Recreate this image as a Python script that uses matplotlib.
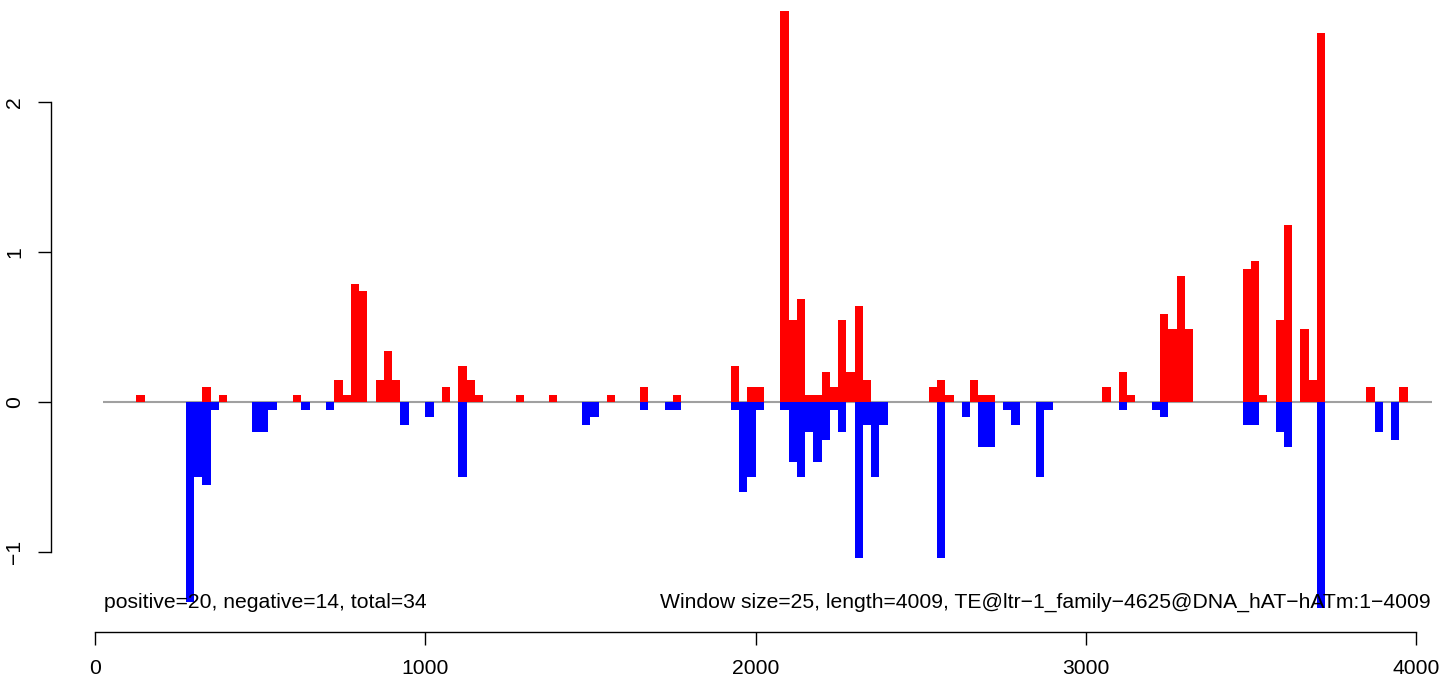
import matplotlib
matplotlib.use("Agg")
import matplotlib.pyplot as plt

plt.rcParams['font.family'] = ['Liberation Sans', 'DejaVu Sans']

# window start positions (bin width 25) and scores
pos_start = [125, 325, 375, 600, 725, 750, 775, 800, 850, 875, 900, 1050, 1100,
             1125, 1150, 1275, 1375, 1550, 1650, 1750, 1925, 1975, 2000, 2075,
             2100, 2125, 2150, 2175, 2200, 2225, 2250, 2275, 2300, 2325, 2525,
             2550, 2575, 2650, 2675, 2700, 3050, 3100, 3125, 3225, 3250, 3275,
             3300, 3475, 3500, 3525, 3575, 3600, 3650, 3675, 3700, 3850, 3950]
pos_val = [0.05, 0.10, 0.05, 0.05, 0.15, 0.05, 0.79, 0.74, 0.15, 0.34, 0.15, 0.10, 0.24,
           0.15, 0.05, 0.05, 0.05, 0.05, 0.10, 0.05, 0.24, 0.10, 0.10, 2.61,
           0.55, 0.69, 0.05, 0.05, 0.20, 0.10, 0.55, 0.20, 0.64, 0.15, 0.10,
           0.15, 0.05, 0.15, 0.05, 0.05, 0.10, 0.20, 0.05, 0.59, 0.49, 0.84,
           0.49, 0.89, 0.94, 0.05, 0.55, 1.18, 0.49, 0.15, 2.46, 0.10, 0.10]

neg_start = [275, 300, 325, 350, 475, 500, 525, 625, 700, 925, 1000, 1100, 1475,
             1500, 1650, 1725, 1750, 1925, 1950, 1975, 2000, 2075, 2100, 2125,
             2150, 2175, 2200, 2225, 2250, 2300, 2325, 2350, 2375, 2550, 2625,
             2675, 2700, 2750, 2775, 2850, 2875, 3100, 3200, 3225, 3475, 3500,
             3575, 3600, 3700, 3875, 3925]
neg_val = [-1.33, -0.50, -0.55, -0.05, -0.20, -0.20, -0.05, -0.05, -0.05, -0.15, -0.10, -0.50, -0.15,
           -0.10, -0.05, -0.05, -0.05, -0.05, -0.60, -0.50, -0.05, -0.05, -0.40, -0.50,
           -0.20, -0.40, -0.25, -0.05, -0.20, -1.04, -0.15, -0.50, -0.15, -1.04, -0.10,
           -0.30, -0.30, -0.05, -0.15, -0.50, -0.05, -0.05, -0.05, -0.10, -0.15, -0.15,
           -0.20, -0.30, -1.37, -0.20, -0.25]

WIN = 25
x_ticks = [0, 1000, 2000, 3000, 4000]
y_ticks = [-1, 0, 1, 2]
left_text = "positive=20, negative=14, total=34"
right_text = ("Window size=25, length=4009, "
              "TE@ltr\u22121_family\u22124625@DNA_hAT\u2212hATm:1\u22124009")

FS = 15.2

fig = plt.figure(figsize=(14.44, 6.8), dpi=100)
ax = fig.add_axes([0, 0, 1, 1])
# pixel mapping: x px = 95 + 0.33025*x ; y px (from top) = 402 - 150*y
ax.set_xlim(-95 / 0.33025, (1444 - 95) / 0.33025)
ax.set_ylim((402 - 680) / 150, 402 / 150)

ax.bar(pos_start, pos_val, width=WIN, align='edge', color='#FF0000',
       linewidth=0, antialiased=False)
ax.bar(neg_start, neg_val, width=WIN, align='edge', color='#0000FF',
       linewidth=0, antialiased=False)
ax.hlines(0, WIN, 4048, color='#A0A0A0', lw=1.5, zorder=0.5)

# axes in R base style
for s in ['top', 'right']:
    ax.spines[s].set_visible(False)
ax.spines['left'].set_position(('data', (51 - 95) / 0.33025))
ax.spines['left'].set_bounds(-1, 2)
ax.spines['bottom'].set_position(('data', (402 - 631.7) / 150))
ax.spines['bottom'].set_bounds(0, 4000)
for s in ['left', 'bottom']:
    ax.spines[s].set_linewidth(1.0)
ax.set_xticks(x_ticks)
ax.set_xticklabels([str(t) for t in x_ticks])
ax.set_yticks(y_ticks)
ax.set_yticklabels(['\u22121', '0', '1', '2'], rotation=90, va='center')
ax.tick_params(direction='out', length=9.4, width=1.0, labelsize=FS)
ax.tick_params(axis='x', pad=10)
ax.tick_params(axis='y', pad=10)

ax.text(27, (402 - 608) / 150, left_text, fontsize=FS, ha='left', va='baseline')
ax.text(4043, (402 - 608) / 150, right_text, fontsize=FS, ha='right', va='baseline')

fig.savefig('out.png', dpi=100)
